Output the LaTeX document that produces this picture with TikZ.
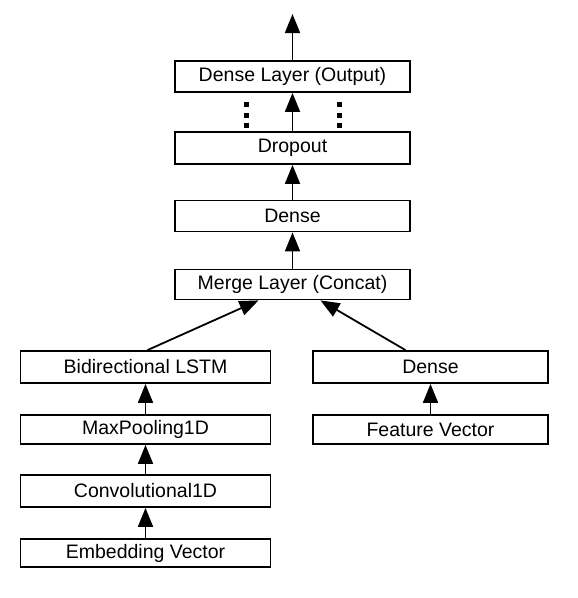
\documentclass[tikz,border=0pt]{standalone}
\usepackage{fontspec}
\setmainfont{Liberation Sans}
\usetikzlibrary{arrows.meta,calc}
\begin{document}
\begin{tikzpicture}[x=1pt,y=-1pt,
  layer/.style={draw,line width=1.8pt,rectangle,inner sep=0pt,
    font=\fontsize{19.5}{22}\selectfont},
  wide/.style={layer,minimum width=235pt},
  leftcol/.style={layer,minimum width=250pt},
  conn/.style={line width=1.8pt,-{Triangle[width=15pt,length=19pt]}},
  dotmark/.style={fill=black,minimum size=5pt,inner sep=0pt,rectangle}]
\useasboundingbox (0,0) rectangle (578,598);
\node[wide,minimum height=31pt] (out) at (292.5,76.5) {Dense Layer (Output)};
\node[wide,minimum height=32pt] (drop) at (292.5,148) {Dropout};
\node[wide,minimum height=31pt] (dense1) at (292.5,216) {Dense};
\node[wide,minimum height=30pt] (merge) at (292.5,284.5) {Merge Layer (Concat)};
\node[leftcol,minimum height=32pt] (bilstm) at (145.5,367) {Bidirectional LSTM};
\node[wide,minimum height=32pt] (dense2) at (430.5,367) {Dense};
\node[leftcol,minimum height=29pt] (maxpool) at (145.5,429.5) {MaxPooling1D};
\node[wide,minimum height=29pt] (feat) at (430.5,429.5) {Feature Vector};
\node[leftcol,minimum height=32pt] (conv) at (145.5,491) {Convolutional1D};
\node[leftcol,minimum height=28pt] (emb) at (145.5,553) {Embedding Vector};
\coordinate (topend) at (292.5,14);
\foreach \i/\y in {a/104.5,b/115,c/125.5}{
  \node[dotmark] (dl\i) at (246,\y) {};
  \node[dotmark] (dr\i) at (339,\y) {};
}
\draw[conn] (out.north) -- (topend);
\draw[conn] (drop.north) -- (out.south);
\draw[conn] (dense1.north) -- (drop.south);
\draw[conn] (merge.north) -- (dense1.south);
\draw[conn] ($(bilstm.north)+(2pt,0)$) -- ($(merge.south)+(-34pt,0)$);
\draw[conn] ($(dense2.north)+(-25pt,0)$) -- ($(merge.south)+(28pt,0)$);
\draw[conn] (maxpool.north) -- (bilstm.south);
\draw[conn] (feat.north) -- (dense2.south);
\draw[conn] (conv.north) -- (maxpool.south);
\draw[conn] (emb.north) -- (conv.south);
\end{tikzpicture}
\end{document}
